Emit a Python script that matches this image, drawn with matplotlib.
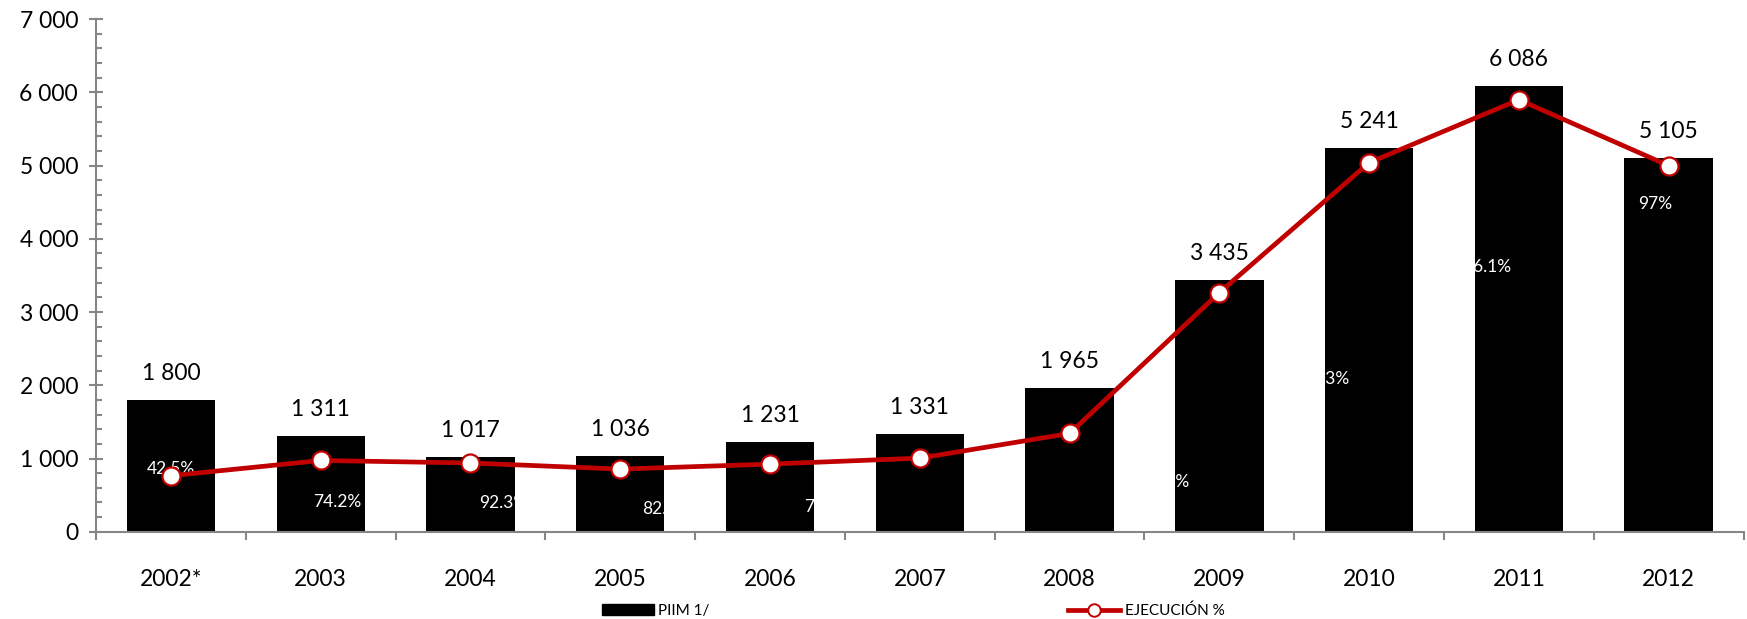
import matplotlib
matplotlib.use("Agg")
import matplotlib.pyplot as plt
from matplotlib.ticker import FuncFormatter, MultipleLocator
from matplotlib.patches import Patch
from matplotlib.lines import Line2D

years = ["2002*", "2003", "2004", "2005", "2006", "2007", "2008", "2009", "2010", "2011", "2012"]
piim = [1800, 1311, 1017, 1036, 1231, 1331, 1965, 3435, 5241, 6086, 5105]
ejecucion = [765, 973, 939, 855, 924, 1005, 1342, 3266, 5040, 5900, 5000]
pct_labels = ["42.5%", "74.2%", "92.3%", "82.5%", "75.0%", "75.5%", "68.3%", "95.1%", "96.3%", "96.1%", "97%"]

# where the (white) percentage labels ended up: x shift in categories, y in data units
pct_dx = [0.0, 0.11, 0.22, 0.31, 0.39, 0.5, 0.5, -0.36, -0.29, -0.21, -0.09]
pct_y = [853, 409, 391, 309, 341, 330, 200, 680, 2083, 3615, 4480]

RED = "#C00000"
GRAY = "#868686"
plt.rcParams["font.family"] = ["Lato", "DejaVu Sans"]

fig = plt.figure(figsize=(17.47, 6.19), dpi=100)
ax = fig.add_axes([0.055, 0.141, 0.943, 0.828])

x = list(range(len(years)))
ax.bar(x, piim, width=0.59, color="black", zorder=2)
ax.plot(x, ejecucion, color=RED, lw=3.4, marker="o", ms=13,
        mfc="white", mec=RED, mew=1.6, zorder=3)

for i, v in enumerate(piim):
    ax.annotate(f"{v:,}".replace(",", " "), (i, v), xytext=(0, 19),
                textcoords="offset points", ha="center", va="center", fontsize=16.5)

for i, s in enumerate(pct_labels):
    ax.text(i + pct_dx[i], pct_y[i], s, color="white", ha="center", va="center",
            fontsize=12.5, zorder=2.5)

ax.set_xlim(-0.5, len(years) - 0.5)
ax.set_ylim(0, 7000)

ax.yaxis.set_major_locator(MultipleLocator(1000))
ax.yaxis.set_minor_locator(MultipleLocator(200))
ax.yaxis.set_major_formatter(FuncFormatter(lambda v, p: f"{int(v):,}".replace(",", " ")))
ax.tick_params(axis="y", which="major", direction="inout", length=10, width=1.5,
               color=GRAY, labelsize=16.5, pad=8)
ax.tick_params(axis="y", which="minor", direction="in", length=4, width=1.5, color=GRAY)

ax.set_xticks([i - 0.5 for i in range(len(years) + 1)])
ax.set_xticklabels([])
ax.set_xticks(x, minor=True)
ax.set_xticklabels(years, minor=True)
ax.tick_params(axis="x", which="major", direction="out", length=6, width=1.5, color=GRAY)
ax.tick_params(axis="x", which="minor", length=0, labelsize=16.5, pad=27)

for side in ["top", "right"]:
    ax.spines[side].set_visible(False)
for side in ["left", "bottom"]:
    ax.spines[side].set_color(GRAY)
    ax.spines[side].set_linewidth(1.5)

fig.legend(handles=[Patch(color="black", label="PIIM 1/")], loc="center left",
           bbox_to_anchor=(602 / 1747, 0.0134), frameon=False, fontsize=11,
           handlelength=3.4, handletextpad=0.25, borderpad=0, borderaxespad=0)
fig.legend(handles=[Line2D([], [], color=RED, lw=3.4, marker="o", ms=9, mfc="white",
                           mec=RED, mew=1.4, label="EJECUCIÓN %")],
           loc="center left", bbox_to_anchor=(1068 / 1747, 0.0134), frameon=False,
           fontsize=11, handlelength=3.4, handletextpad=0.3, borderpad=0, borderaxespad=0)

fig.savefig("out.png", dpi=100)
